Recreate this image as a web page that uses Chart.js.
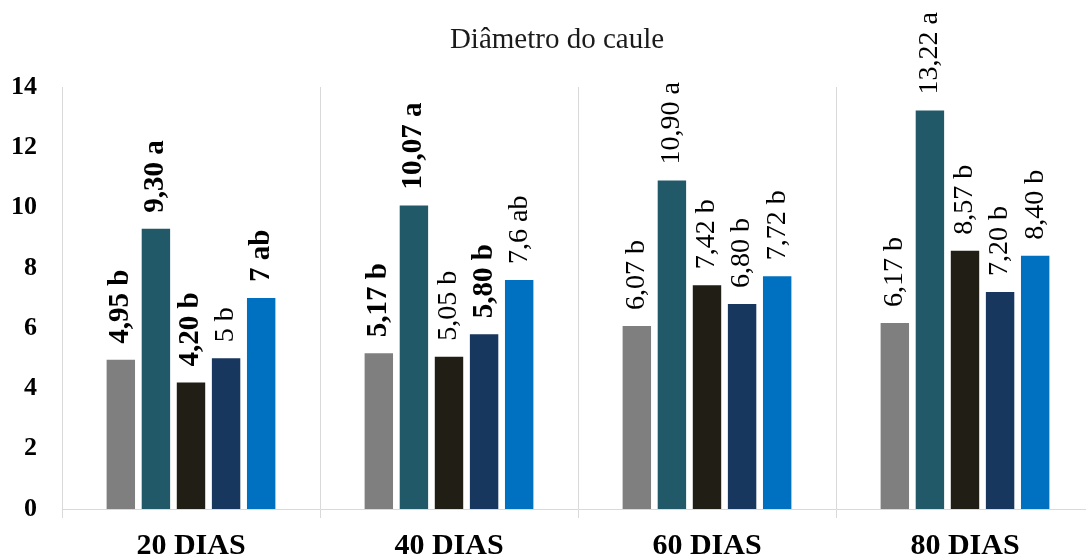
<!DOCTYPE html>
<html>
<head>
<meta charset="utf-8">
<script src="https://cdn.jsdelivr.net/npm/chart.js@4/dist/chart.umd.min.js"></script>
<style>
  html, body { margin: 0; padding: 0; background: #fff; overflow: hidden; }
  #caixa { width: 1094px; height: 556px; }
</style>
</head>
<body>
<div id="caixa"><canvas id="grafico" width="1094" height="556"></canvas></div>
<script>
// Dias de avaliação
const dias = ["20 DIAS", "40 DIAS", "60 DIAS", "80 DIAS"];

// Médias do diâmetro do caule por tratamento
const trat1 = [4.95, 5.17, 6.07, 6.17];
const trat2 = [9.30, 10.07, 10.90, 13.22];
const trat3 = [4.20, 5.05, 7.42, 8.57];
const trat4 = [5, 5.80, 6.80, 7.20];
const trat5 = [7, 7.6, 7.72, 8.40];

// Letras do teste de médias
const letras1 = ["b", "b", "b", "b"];
const letras2 = ["a", "a", "a", "a"];
const letras3 = ["b", "b", "b", "b"];
const letras4 = ["b", "b", "b", "b"];
const letras5 = ["ab", "ab", "b", "b"];

// Casas decimais mostradas em cada rótulo
const casas1 = [2, 2, 2, 2];
const casas2 = [2, 2, 2, 2];
const casas3 = [2, 2, 2, 2];
const casas4 = [0, 2, 2, 2];
const casas5 = [0, 1, 2, 2];

// Rótulos em negrito
const negrito1 = [true, true, false, false];
const negrito2 = [true, true, false, false];
const negrito3 = [true, false, false, false];
const negrito4 = [false, true, false, false];
const negrito5 = [true, false, false, false];

const cores = ["#7f7f7f", "#215968", "#201e15", "#17375e", "#0070c0"];
const fonte = "'Liberation Serif', 'Times New Roman', serif";
const titulo = "Diâmetro do caule";

const series = [
  [trat1, letras1, casas1, negrito1],
  [trat2, letras2, casas2, negrito2],
  [trat3, letras3, casas3, negrito3],
  [trat4, letras4, casas4, negrito4],
  [trat5, letras5, casas5, negrito5],
];

const datasets = series.map((s, i) => ({
  label: "T" + (i + 1),
  data: s[0],
  letras: s[1],
  casas: s[2],
  negrito: s[3],
  backgroundColor: cores[i],
  borderWidth: 0,
  categoryPercentage: 0.68,
  barPercentage: 0.81,
}));

// Rótulos verticais acima das barras
const rotulosVerticais = {
  id: "rotulosVerticais",
  afterDatasetsDraw(chart) {
    const ctx = chart.ctx;
    chart.data.datasets.forEach((ds, i) => {
      chart.getDatasetMeta(i).data.forEach((barra, j) => {
        const v = ds.data[j];
        const texto = v.toFixed(ds.casas[j]).replace(".", ",") + " " + ds.letras[j];
        ctx.save();
        ctx.translate(barra.x, barra.y - 16);
        ctx.rotate(-Math.PI / 2);
        ctx.font = ds.negrito[j] ? "bold 29px " + fonte : "28px " + fonte;
        ctx.fillStyle = "#000";
        ctx.textAlign = "left";
        ctx.textBaseline = "middle";
        ctx.fillText(texto, 0, 0);
        ctx.restore();
      });
    });
  },
};

// Título um pouco deslocado para a direita do centro
const tituloTopo = {
  id: "tituloTopo",
  afterDraw(chart) {
    const ctx = chart.ctx;
    ctx.save();
    ctx.font = "29px " + fonte;
    ctx.fillStyle = "#1a1a1a";
    ctx.textAlign = "center";
    ctx.textBaseline = "middle";
    ctx.fillText(titulo, chart.width / 2 + 10, 40);
    ctx.restore();
  },
};

new Chart(document.getElementById("grafico"), {
  type: "bar",
  data: { labels: dias, datasets },
  plugins: [rotulosVerticais, tituloTopo],
  options: {
    responsive: false,
    animation: false,
    layout: { padding: { left: 0, right: 0, top: 87, bottom: 0 } },
    plugins: {
      legend: { display: false },
      tooltip: { enabled: false },
      title: { display: false },
    },
    scales: {
      x: {
        grid: { color: "#d9d9d9", lineWidth: 1, tickLength: 9, offset: true },
        border: { color: "#d9d9d9" },
        ticks: {
          color: "#000",
          padding: 10,
          font: { family: fonte, size: 30, weight: "bold" },
        },
        afterFit(scale) { scale.height = 47; },
      },
      y: {
        min: 0,
        max: 14,
        ticks: {
          stepSize: 2,
          color: "#000",
          padding: 25,
          font: { family: fonte, size: 26, weight: "bold" },
        },
        grid: { display: false, drawTicks: false },
        border: { display: false },
        afterFit(scale) { scale.width = 62; },
      },
    },
  },
});
</script>
</body>
</html>
